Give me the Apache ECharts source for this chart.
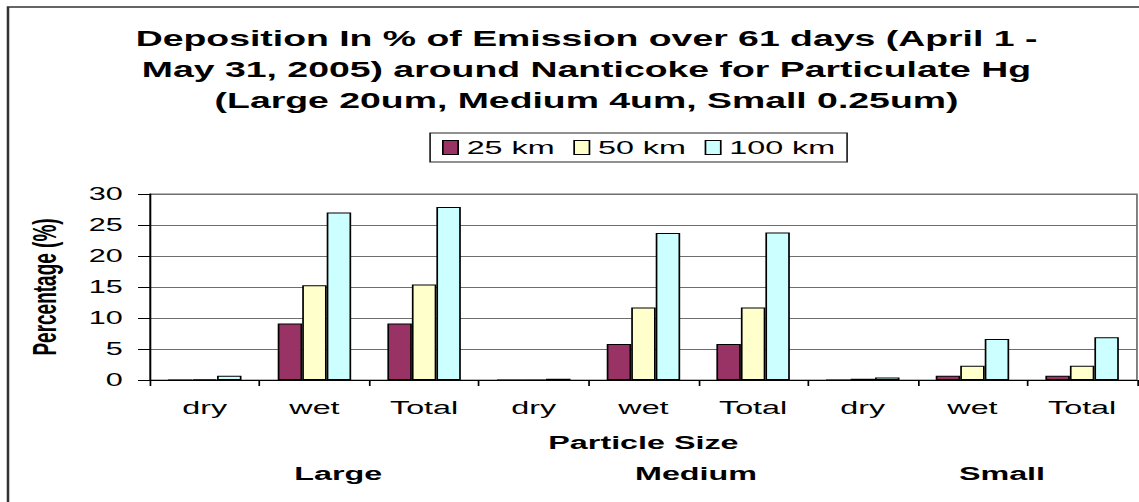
<!DOCTYPE html>
<html>
<head>
<meta charset="utf-8">
<script src="https://cdn.jsdelivr.net/npm/echarts@6/dist/echarts.min.js"></script>
<style>
  html, body { margin: 0; padding: 0; background: #fff; overflow: hidden; }
  #wrap { width: 1139px; height: 502px; overflow: hidden; position: relative; }
  #c { width: 670px; height: 502px; transform: scaleX(1.7); transform-origin: 0 0; }
</style>
</head>
<body>
<div id="wrap"><div id="c"></div></div>
<script>
// ---- data ----
const categories = ['dry', 'wet', 'Total', 'dry', 'wet', 'Total', 'dry', 'wet', 'Total'];
const groups = ['Large', 'Medium', 'Small'];
const seriesNames = ['25 km', '50 km', '100 km'];
const km25  = [0,   9.1, 9.1,  0,   5.8, 5.8,  0,   0.7, 0.7];
const km50  = [0.1, 15.3, 15.4, 0,  11.7, 11.7, 0.2, 2.3, 2.3];
const km100 = [0.7, 27.0, 27.9, 0.2, 23.7, 23.8, 0.4, 6.6, 6.9];
const yTicks = { min: 0, max: 30, interval: 5 };
const titleText = 'Deposition In % of Emission over 61 days (April 1 -\nMay 31, 2005) around Nanticoke for Particulate Hg\n(Large 20um, Medium 4um, Small 0.25um)';

// ---- chart ----
const FONT = "'Liberation Sans', Arial, sans-serif";
const colors = ['#993366', '#FFFFCC', '#CCFFFF'];
const chart = echarts.init(document.getElementById('c'), null, { renderer: 'svg' });

const groupX = [199, 409.4, 589.4]; // label centres (chart units)

const option = {
  animation: false,
  backgroundColor: '#ffffff',
  title: {
    text: titleText,
    left: 340,
    top: 18,
    textAlign: 'center',
    textStyle: { fontFamily: FONT, fontSize: 22, fontWeight: 'bold', color: '#000', lineHeight: 31 }
  },
  legend: {
    data: seriesNames,
    left: 253,
    top: 133,
    orient: 'horizontal',
    icon: 'rect',
    itemWidth: 9,
    itemHeight: 14,
    itemGap: 11,
    padding: [5, 7],
    borderColor: '#222',
    borderWidth: 1,
    textStyle: { fontFamily: FONT, fontSize: 19, color: '#000' },
    itemStyle: { borderColor: '#000', borderWidth: 1 }
  },
  grid: {
    left: 88.2, right: 1.2, top: 194, bottom: 122,
    show: true, borderColor: '#6e6e6e', borderWidth: 1, backgroundColor: 'transparent',
    containLabel: false
  },
  xAxis: {
    type: 'category',
    data: categories,
    boundaryGap: true,
    name: 'Particle Size',
    nameLocation: 'middle',
    nameGap: 53,
    nameTextStyle: { fontFamily: FONT, fontSize: 19, fontWeight: 'bold', color: '#000' },
    axisLine: { show: true, lineStyle: { color: '#000', width: 1 } },
    axisTick: { show: true, alignWithLabel: false, length: 6, lineStyle: { color: '#000' } },
    axisLabel: { interval: 0, margin: 18, fontFamily: FONT, fontSize: 19, color: '#000' },
    splitLine: { show: false }
  },
  yAxis: {
    type: 'value',
    min: yTicks.min, max: yTicks.max, interval: yTicks.interval,
    name: 'Percentage (%)',
    nameLocation: 'middle',
    nameRotate: 90,
    nameGap: 52,
    nameTextStyle: { fontFamily: FONT, fontSize: 19, fontWeight: 'bold', color: '#000' },
    axisLine: { show: true, lineStyle: { color: '#000', width: 1 } },
    axisTick: { show: true, length: 7, lineStyle: { color: '#000' } },
    axisLabel: { margin: 16, fontFamily: FONT, fontSize: 18, color: '#000' },
    splitLine: { show: true, lineStyle: { color: '#6e6e6e', width: 1 } }
  },
  series: [km25, km50, km100].map((d, i) => ({
    name: seriesNames[i],
    type: 'bar',
    data: d,
    barGap: '0%',
    barCategoryGap: '33%',
    itemStyle: { color: colors[i], borderColor: '#000', borderWidth: 1 }
  })),
  graphic: [
    {
      type: 'rect', silent: true, z: -1,
      shape: { x: 4.7, y: 7, width: 800, height: 800 },
      style: { fill: 'none', stroke: '#333', lineWidth: 1.5 }
    }
  ].concat(groups.map((g, i) => ({
    type: 'text',
    x: groupX[i], y: 474,
    style: { text: g, fontFamily: FONT, fontSize: 19, fontWeight: 'bold', fill: '#000', align: 'center', verticalAlign: 'middle' }
  })))
};
chart.setOption(option);
</script>
</body>
</html>
